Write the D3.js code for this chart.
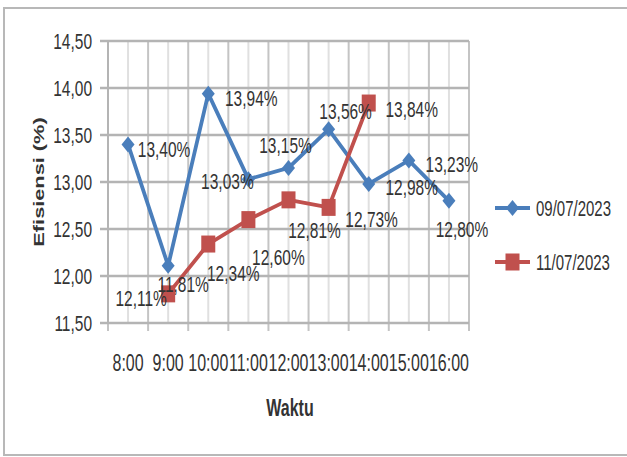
<!DOCTYPE html>
<html>
<head>
<meta charset="utf-8">
<script src="https://cdn.jsdelivr.net/npm/d3@7"></script>
<style>
  body { margin: 0; background: #fff; }
  svg { display: block; }
  text { font-family: "Liberation Sans", Arial, sans-serif; fill: #333; }
</style>
</head>
<body>
<svg id="chart" width="627" height="457"></svg>
<script>
// Measurement hours on the category axis
const hours = ["8:00", "9:00", "10:00", "11:00", "12:00", "13:00", "14:00", "15:00", "16:00"];

// Efficiency axis ticks (%)
const yTicks = [11.5, 12.0, 12.5, 13.0, 13.5, 14.0, 14.5];

// Series 1: 09/07/2023, all hours
const series1Name = "09/07/2023";
const series1Hours = hours;
const series1Values = [13.40, 12.11, 13.94, 13.03, 13.15, 13.56, 12.98, 13.23, 12.80];

// Series 2: 11/07/2023, 9:00 to 14:00
const series2Name = "11/07/2023";
const series2Hours = ["9:00", "10:00", "11:00", "12:00", "13:00", "14:00"];
const series2Values = [11.81, 12.34, 12.60, 12.81, 12.73, 13.84];

const yTitle = "Efisiensi (%)";
const xTitle = "Waktu";

// ---- layout ----
const W = 627, H = 457;
const plot = { left: 108, right: 469, top: 41, bottom: 323 };
const STRETCH = 1.45;              // tall, narrow lettering
const blue = "#4a7ebb", red = "#c0504d";

// data-label offsets from each point (px)
const series1LabelOffsets = [[36, 5], [-27, 33], [43, 5], [-21, 2], [-3, -22], [17, -18], [43, 4], [43, 4], [13, 29]];
const series2LabelOffsets = [[15, -9], [25, 29], [30, 38], [26, 31], [43, 12], [43, 6]];

const svg = d3.select("#chart");

const x = d3.scaleBand().domain(hours).range([plot.left, plot.right]).padding(0);
const y = d3.scaleLinear().domain([11.5, 14.5]).range([plot.bottom, plot.top]);
const cx = h => x(h) + x.bandwidth() / 2;

const fmtTick = v => d3.format(".2f")(v).replace(".", ",");
const fmtPct = v => d3.format(".2f")(v).replace(".", ",") + "%";

function stretchedText(sel, px, py, str, size, anchor, weight) {
  return sel.append("text")
    .attr("transform", `translate(${px},${py}) scale(1,${STRETCH})`)
    .attr("text-anchor", anchor || "middle")
    .attr("dominant-baseline", "central")
    .style("font-size", size + "px")
    .style("font-weight", weight || "normal")
    .text(str);
}

// chart frame
svg.append("path")
  .attr("d", `M${W + 5},8 H4 V455 H${W + 5}`)
  .attr("fill", "none").attr("stroke", "#b8b8b8").attr("stroke-width", 2);

const grid = svg.append("g");

// minor vertical gridlines at category centres
grid.selectAll("line.vminor").data(hours).join("line")
  .attr("x1", d => cx(d)).attr("x2", d => cx(d))
  .attr("y1", plot.top).attr("y2", plot.bottom)
  .attr("stroke", "#e0e0e0").attr("stroke-width", 2);

// major vertical gridlines at category boundaries
const edges = hours.map(h => x(h)).concat([x.range()[1]]);
grid.selectAll("line.vmajor").data(edges).join("line")
  .attr("x1", d => d).attr("x2", d => d)
  .attr("y1", plot.top).attr("y2", plot.bottom + 8)
  .attr("stroke", "#c4c4c4").attr("stroke-width", 2);

// horizontal gridlines with outside ticks
grid.selectAll("line.h").data(yTicks).join("line")
  .attr("x1", plot.left - 8).attr("x2", plot.right)
  .attr("y1", d => y(d)).attr("y2", d => y(d))
  .attr("stroke", "#b4b4b4").attr("stroke-width", 2.5);

// y axis line
grid.append("line")
  .attr("x1", plot.left).attr("x2", plot.left)
  .attr("y1", plot.top).attr("y2", plot.bottom)
  .attr("stroke", "#b4b4b4").attr("stroke-width", 2);

// y tick labels
const yAxis = svg.append("g").attr("transform", `translate(${plot.left},0)`)
  .call(d3.axisLeft(y).tickValues(yTicks).tickFormat(fmtTick).tickSize(0).tickPadding(16));
yAxis.select(".domain").remove();
yAxis.selectAll("text")
  .attr("dy", null)
  .attr("dominant-baseline", "central")
  .attr("transform", `scale(1,${STRETCH})`)
  .style("font-size", "15.5px").style("font-family", '"Liberation Sans", Arial, sans-serif').attr("fill", "#333");

// x tick labels
const xAxis = svg.append("g").attr("transform", `translate(0,${plot.bottom})`)
  .call(d3.axisBottom(x).tickSize(0).tickPadding(0));
xAxis.select(".domain").remove();
xAxis.selectAll("text")
  .attr("y", 0).attr("dy", null)
  .attr("dominant-baseline", "central")
  .attr("transform", `translate(0,40) scale(1,${STRETCH})`)
  .style("font-size", "16px").style("font-family", '"Liberation Sans", Arial, sans-serif').attr("fill", "#333");

// axis titles
svg.append("text")
  .attr("transform", `translate(39,182) rotate(-90) scale(${STRETCH},1)`)
  .attr("text-anchor", "middle").attr("dominant-baseline", "central")
  .style("font-size", "15px").style("font-weight", "bold").text(yTitle);
stretchedText(svg, 290, 408, xTitle, 16, "middle", "bold");

// series
const line = d3.line().x(d => cx(d.h)).y(d => y(d.v));
const s1 = series1Hours.map((h, i) => ({ h, v: series1Values[i] }));
const s2 = series2Hours.map((h, i) => ({ h, v: series2Values[i] }));

const diamond = (px, py) => `M${px},${py - 8} L${px + 6.5},${py} L${px},${py + 8} L${px - 6.5},${py} Z`;

function drawSeries(data, color, marker) {
  const g = svg.append("g");
  g.append("path").datum(data).attr("d", line)
    .attr("fill", "none").attr("stroke", color).attr("stroke-width", 3.8)
    .attr("stroke-linejoin", "round");
  if (marker === "diamond") {
    g.selectAll("path.m").data(data).join("path")
      .attr("d", d => diamond(cx(d.h), y(d.v))).attr("fill", color);
  } else {
    g.selectAll("rect.m").data(data).join("rect")
      .attr("x", d => cx(d.h) - 7).attr("y", d => y(d.v) - 8.5)
      .attr("width", 14).attr("height", 17).attr("fill", color);
  }
  return g;
}

drawSeries(s1, blue, "diamond");
drawSeries(s2, red, "square");

// data labels
const labels = svg.append("g");
s1.forEach((d, i) => {
  const [dx, dy] = series1LabelOffsets[i];
  stretchedText(labels, cx(d.h) + dx, y(d.v) + dy, fmtPct(d.v), 15.5, "middle");
});
s2.forEach((d, i) => {
  const [dx, dy] = series2LabelOffsets[i];
  stretchedText(labels, cx(d.h) + dx, y(d.v) + dy, fmtPct(d.v), 15.5, "middle");
});

// legend
const legend = svg.append("g");
[[series1Name, blue, "diamond", 208], [series2Name, red, "square", 262]].forEach(([name, color, marker, ly]) => {
  legend.append("line").attr("x1", 495).attr("x2", 530).attr("y1", ly).attr("y2", ly)
    .attr("stroke", color).attr("stroke-width", 3.8);
  if (marker === "diamond") legend.append("path").attr("d", diamond(512.5, ly)).attr("fill", color);
  else legend.append("rect").attr("x", 505.5).attr("y", ly - 8.5).attr("width", 14).attr("height", 17).attr("fill", color);
  stretchedText(legend, 536, ly, name, 15, "start");
});
</script>
</body>
</html>
